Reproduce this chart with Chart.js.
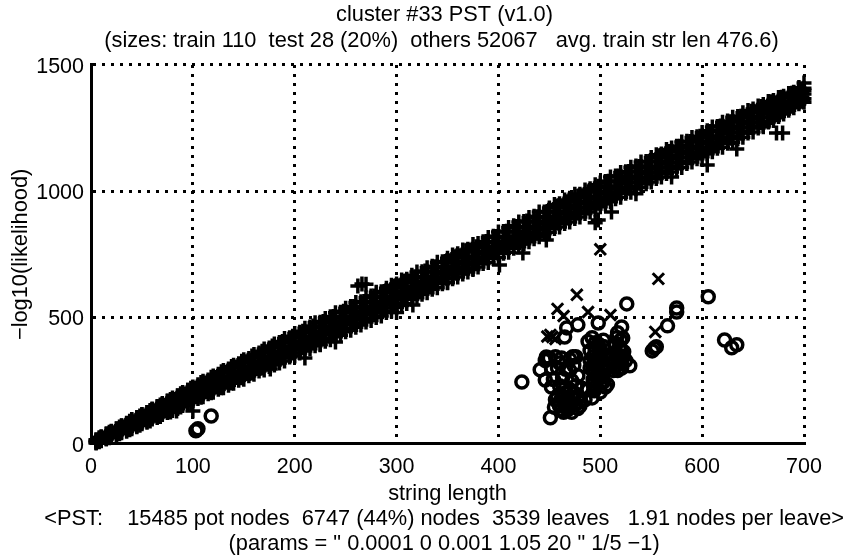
<!DOCTYPE html>
<html><head><meta charset="utf-8">
<style>html,body{margin:0;padding:0;background:#fff}#w{position:relative;width:864px;height:557px}</style>
<script src="https://cdn.jsdelivr.net/npm/chart.js@4"></script>
</head><body><div id="w"><canvas id="c" width="864" height="557"></canvas></div>
<script>
const titleLines = ['cluster #33 PST (v1.0) ', '(sizes: train 110  test 28 (20%)  others 52067   avg. train str len 476.6)  '];
const footerLines = ['    <PST:    15485 pot nodes  6747 (44%) nodes  3539 leaves   1.91 nodes per leave>', '    (params = " 0.0001 0 0.001 1.05 20 " 1/5 \u22121)'];
const xLabel = 'string length';
const yLabel = '\u2212log10(likelihood)';
const xTicks = [0,100,200,300,400,500,600,700];
const yTicks = [0,500,1000,1500];

const trainLen = [5,10,15,20,25,30,35,40,45,50,55,60,65,70,75,80,85,90,95,100,105,110,115,120,125,130,135,140,145,150,155,160,165,170,175,180,185,190,195,200,205,210,215,220,225,230,235,240,245,250,255,260,265,270,275,280,285,290,295,300,305,310,315,320,325,330,335,340,345,350,355,360,365,370,375,380,385,390,395,400,405,410,415,420,425,430,435,440,445,450,455,460,465,470,475,480,485,490,495,500,505,510,515,520,525,530,535,540,545,550,555,560,565,570,575,580,585,590,595,600,605,610,615,620,625,630,635,640,645,650,655,660,665,670,675,680,685,690,695,700];
const trainTop = [14,26,37,49,59,71,80,94,102,115,124,138,146,160,169,182,189,203,212,225,234,248,253,269,276,290,296,311,317,333,338,354,360,375,379,395,401,417,420,437,442,458,463,479,481,496,503,519,521,537,544,560,562,578,585,600,602,616,628,633,649,652,667,680,681,697,703,719,721,735,748,752,767,770,789,793,800,817,822,839,841,856,863,878,880,896,901,918,918,934,947,950,965,972,988,988,1005,1010,1026,1032,1038,1056,1060,1074,1077,1095,1100,1116,1118,1133,1144,1147,1165,1171,1178,1195,1198,1213,1216,1232,1239,1254,1256,1273,1278,1293,1296,1311,1319,1325,1337,1343,1355,1359,1371,1376,1387,1392,1403,1408];
const trainHigh = [16,28,40,50,60,72,82,96,104,116,124,136,148,156,170,176,190,196,212,218,226,240,247,260,266,280,286,300,306,320,325,340,344,360,365,380,384,400,404,420,424,440,443,460,466,478,486,498,503,520,523,538,544,560,563,580,582,598,604,618,622,640,642,658,662,680,682,698,702,718,722,738,741,760,762,778,782,798,800,818,820,840,842,858,860,878,881,898,900,918,920,938,941,958,960,978,980,998,1000,1018,1020,1038,1040,1058,1060,1078,1080,1098,1100,1118,1120,1138,1140,1158,1160,1172,1180,1196,1200,1218,1220,1236,1240,1258,1262,1276,1280,1296,1302,1316,1320,1332,1340,1352,1358,1370,1376,1386,1392,1400];
const trainMid = [9,21,29,41,49,60,68,80,88,100,108,120,128,140,148,160,167,178,188,199,207,218,229,237,249,256,268,276,288,296,308,316,328,336,348,355,367,375,387,395,407,415,427,435,447,454,466,474,486,494,506,514,526,534,546,553,565,573,585,593,605,613,625,633,645,652,664,672,684,692,704,712,724,732,744,751,763,771,783,791,803,811,823,831,843,850,862,870,882,890,902,910,922,930,942,949,961,969,981,989,1001,1009,1021,1029,1041,1048,1060,1068,1080,1088,1100,1108,1120,1128,1140,1147,1159,1167,1179,1187,1199,1207,1219,1227,1239,1246,1258,1266,1278,1286,1298,1306,1318,1326,1338,1345,1357,1365,1377,1385];
const trainLow = [3,12,20,30,38,48,56,64,72,84,90,102,110,122,130,140,146,158,168,178,188,198,207,216,228,234,246,254,266,274,286,292,306,314,326,332,345,352,366,372,386,392,404,414,425,432,444,450,464,472,484,490,504,512,524,528,542,550,562,570,582,588,602,610,622,626,640,648,660,668,680,686,700,708,720,726,740,746,760,766,780,786,800,806,820,826,838,846,858,864,878,884,896,904,916,922,936,942,956,962,976,982,994,1002,1014,1020,1034,1040,1052,1060,1072,1078,1092,1098,1112,1118,1132,1138,1150,1158,1170,1176,1190,1198,1210,1216,1230,1236,1250,1258,1270,1278,1292,1300,1314,1322,1336,1344,1358,1366];
const trainBottom = [5,13,20,28,36,44,50,60,68,80,86,98,104,116,124,132,140,152,158,172,180,186,198,204,216,222,232,240,252,256,270,276,288,292,306,312,320,328,344,348,360,368,376,388,394,406,412,424,430,444,450,462,470,482,488,500,506,520,526,540,548,556,572,578,592,598,612,618,634,638,654,660,672,680,694,700,714,718,734,738,754,758,774,780,792,800,812,820,832,838,852,858,872,878,892,898,912,918,930,938,950,958,970,976,992,996,1010,1016,1030,1036,1050,1056,1070,1076,1090,1094,1110,1116,1128,1136,1148,1156,1170,1174,1190,1194,1208,1214,1230,1234,1250,1260,1274,1280,1296,1306,1320,1330,1346,1352];
const fillLen = [8,18,28,38,48,58,68,78,88,98,108,118,128,138,148,158,168,178,188,198,208,218,228,238,248,258,268,278,288,298,308,318,328,338,348,358,368,378,388,398,408,418,428,438,448,458,468,478,488,498,508,518,528,538,548,558,568,578,588,598,608,618,628,638,648,658,668,678,688,698];
const fillA = [24,46,67,89,110,132,154,176,198,220,243,264,285,306,327,348,367,387,405,426,446,466,484,504,525,544,563,585,603,624,644,661,684,701,722,741,764,780,801,821,842,860,882,899,920,941,958,980,998,1020,1039,1060,1078,1098,1118,1140,1157,1178,1197,1218,1236,1258,1275,1297,1316,1335,1354,1372,1388,1402];
const fillB = [19,41,60,84,103,126,146,165,184,206,224,245,262,284,303,324,343,363,382,403,421,443,461,482,500,522,540,561,580,601,619,641,659,680,698,720,738,759,778,799,817,839,857,878,896,918,937,957,975,997,1015,1037,1055,1076,1094,1116,1134,1155,1173,1195,1213,1235,1253,1274,1292,1313,1332,1352,1371,1391];
const fillC = [12,30,47,66,84,105,124,143,164,183,204,223,243,262,283,302,323,341,363,381,402,421,441,460,482,500,521,539,561,579,601,619,639,658,680,698,719,737,759,777,799,817,837,856,878,896,917,935,957,975,997,1015,1035,1054,1076,1094,1115,1133,1155,1173,1195,1213,1233,1252,1274,1293,1313,1332,1353,1373];
const fillD = [8,24,40,56,74,90,108,126,146,164,184,202,222,241,262,280,300,320,340,360,380,400,418,438,458,478,498,518,538,558,578,598,616,636,656,676,696,716,736,756,776,796,814,834,854,874,894,914,934,954,974,994,1012,1032,1052,1072,1092,1112,1132,1152,1172,1192,1210,1230,1252,1272,1292,1314,1336,1358];
const trainExtraLen = [84,100,176,210,225,240,266,262,270,300,316,350,375,401,424,447,495,498,511,535,570,605,634,660,673,679,695,697,699,700];
const trainExtraLik = [130,130,296,340,392,403,633,625,632,520,550,640,690,708,755,807,875,886,918,990,1056,1104,1167,1255,1230,1230,1410,1385,1355,1428];

const testLen = [103,105,118,423,526,606,575,575,566,555,553,551,529,622,629,634,467,478,498,521,465,522,451,492,441,447,446,456,462,470,458,466,474,454,463,472,478,452,460,458,465,470,475,480,462,472,455,468,478,485,459,474,482,488,492,495,498,500,493,502,496,490,504,497,493,500,505,494,500,507,488,505,508,490,490,503,517,520,519,516,522,518,515,521,525,512,515,523,513,462,466,470,464,475,480,468,472,478,460,456,465,470,476,466,496,498,500,497,499,497,500,495,498,501,494,502,503,495,493,503,493,518,514,519,516,521,512,520,517,450,452,446,460,470,473,476];
const testLik = [52,60,110,245,554,582,538,522,467,384,378,368,309,411,380,392,459,471,478,463,423,419,103,182,293,344,253,345,340,335,300,295,310,255,262,250,270,225,230,190,170,150,200,165,135,125,145,185,140,175,160,175,220,215,420,400,385,360,345,330,315,300,290,275,255,240,225,210,205,235,405,350,310,370,330,410,440,410,385,360,345,325,305,300,330,340,395,365,290,180,150,165,125,155,150,135,160,180,150,175,200,215,230,225,230,260,280,300,320,340,375,370,395,300,280,265,385,335,300,245,235,350,330,300,420,320,315,375,290,340,300,330,320,290,345,345];
const otherLen = [500,477,557,458,464,488,510,554,451,453,448,456];
const otherLik = [770,590,653,534,506,522,510,443,431,423,425,415];

const pts = (a,b)=>a.map((v,i)=>({x:v,y:b[i]}));
const family = '"Liberation Sans", Arial, sans-serif';
const font = {family, size:21.8, weight:'normal'};
const tickFont = {family, size:21.5};
const plus = {pointStyle:'cross',pointRadius:7.5,pointBorderWidth:3.5,pointBorderColor:'#000',pointBackgroundColor:'#000',showLine:false,clip:false};

new Chart(document.getElementById('c'),{
  type:'scatter',
  data:{datasets:[
    {label:'train',data:pts(trainLen,trainTop),...plus},
    {label:'train',data:pts(trainLen,trainHigh),...plus},
    {label:'train',data:pts(trainLen,trainMid),...plus},
    {label:'train',data:pts(trainLen,trainLow),...plus},
    {label:'train',data:pts(trainLen,trainBottom),...plus},
    {label:'train',data:pts(fillLen,fillA),...plus},
    {label:'train',data:pts(fillLen,fillB),...plus},
    {label:'train',data:pts(fillLen,fillC),...plus},
    {label:'train',data:pts(fillLen,fillD),...plus},
    {label:'train',data:pts(trainExtraLen,trainExtraLik),...plus},
    {label:'others',data:pts(otherLen,otherLik),pointStyle:'crossRot',pointRadius:8,pointBorderWidth:3,pointBorderColor:'#000',showLine:false,clip:false},
    {label:'test',data:pts(testLen,testLik),pointStyle:'circle',pointRadius:6,pointBorderWidth:3.5,pointBorderColor:'#000',pointBackgroundColor:'rgba(0,0,0,0)',showLine:false,clip:false}
  ]},
  options:{
    responsive:false,animation:false,
    layout:{padding:0},
    plugins:{
      legend:{display:false},tooltip:{enabled:false},
      title:{display:true,text:titleLines,fullSize:false,color:'#000',font:{...font,lineHeight:1.19},padding:{top:2,bottom:11}},
      subtitle:{display:true,position:'bottom',text:footerLines,fullSize:true,color:'#000',font:{family,size:21.8,weight:'normal',lineHeight:1.15},padding:{top:0,bottom:0}}
    },
    scales:{
      x:{type:'linear',min:0,max:700,
        afterBuildTicks:s=>{s.ticks=xTicks.map(v=>({value:v}));},
        afterFit:s=>{s.height=63;},
        ticks:{color:'#000',font:tickFont,padding:10,maxRotation:0,autoSkip:false,callback:v=>String(v)},
        grid:{color:'#000',lineWidth:3,drawTicks:false},
        border:{color:'#000',width:3,dash:[3,6]},
        title:{display:true,text:xLabel,color:'#000',font,padding:{top:0,bottom:0}}},
      y:{type:'linear',min:0,max:1500,
        afterBuildTicks:s=>{s.ticks=yTicks.map(v=>({value:v}));},
        afterFit:s=>{s.width=91;},
        ticks:{color:'#000',font:tickFont,padding:7,autoSkip:false,labelOffset:2,callback:v=>String(v)},
        grid:{color:'#000',lineWidth:3,drawTicks:false},
        border:{color:'#000',width:3,dash:[3,6]},
        title:{display:true,text:yLabel,color:'#000',font,padding:{top:8,bottom:0}}},
      margin:{type:'linear',position:'right',display:true,min:0,max:1500,
        afterFit:s=>{s.width=60;},
        ticks:{display:false},
        grid:{display:false,drawTicks:false},
        border:{display:false}}
    }
  }
});
</script></body></html>
